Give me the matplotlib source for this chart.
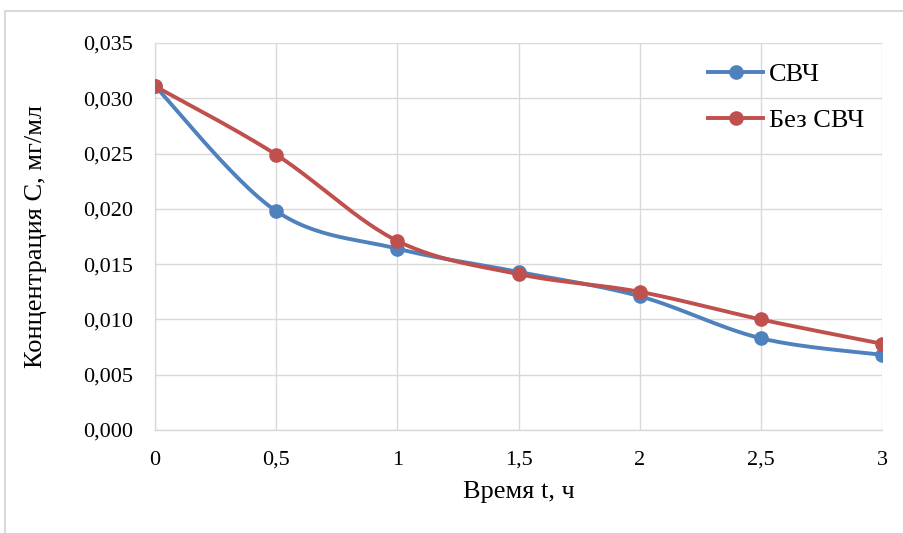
import numpy as np
import matplotlib
matplotlib.use('Agg')
import matplotlib.pyplot as plt
from matplotlib.lines import Line2D
from matplotlib.ticker import FuncFormatter

# Data
time_h = [0, 0.5, 1, 1.5, 2, 2.5, 3]
svch = [0.0311, 0.0198, 0.0164, 0.0143, 0.0121, 0.0083, 0.0068]
bez_svch = [0.0311, 0.0249, 0.0171, 0.0141, 0.0125, 0.0100, 0.0078]
series_names = ['СВЧ', 'Без СВЧ']
colors = ['#4f81bd', '#c0504d']


def smooth(x, y, n=30):
    """Excel-like smoothed line (Catmull-Rom as cubic Bezier)."""
    x = np.asarray(x, float)
    y = np.asarray(y, float)
    xs, ys = [], []
    for i in range(len(x) - 1):
        i0 = max(i - 1, 0)
        i3 = min(i + 2, len(x) - 1)
        p0 = np.array([x[i], y[i]])
        p3 = np.array([x[i + 1], y[i + 1]])
        p1 = p0 + (np.array([x[i + 1], y[i + 1]]) - np.array([x[i0], y[i0]])) / 6
        p2 = p3 - (np.array([x[i3], y[i3]]) - np.array([x[i], y[i]])) / 6
        t = np.linspace(0, 1, n)[:, None]
        pts = ((1 - t) ** 3) * p0 + 3 * ((1 - t) ** 2) * t * p1 \
            + 3 * (1 - t) * t ** 2 * p2 + t ** 3 * p3
        xs.extend(pts[:, 0])
        ys.extend(pts[:, 1])
    return xs, ys


plt.rcParams['font.family'] = ['Liberation Serif', 'DejaVu Serif']

fig = plt.figure(figsize=(9.04, 5.33), dpi=100)
ax = fig.add_axes([0.1715, 0.1932, 0.8042, 0.7261])

for vals, col in zip([svch, bez_svch], colors):
    sx, sy = smooth(time_h, vals)
    ax.plot(sx, sy, color=col, linewidth=2.8, solid_capstyle='round', zorder=3)
    ax.plot(time_h, vals, linestyle='none', marker='o', markersize=9.5,
            color=col, zorder=4)

ax.set_xlim(0, 3)
ax.set_ylim(0, 0.035)
ax.set_xticks(time_h)
ax.set_yticks(np.arange(0, 0.0351, 0.005))
ax.xaxis.set_major_formatter(FuncFormatter(lambda v, p: f'{v:g}'.replace('.', ',')))
ax.yaxis.set_major_formatter(FuncFormatter(lambda v, p: f'{v:.3f}'.replace('.', ',')))
ax.tick_params(length=0, labelsize=16, colors='#000000')
ax.tick_params(axis='x', pad=15)
ax.tick_params(axis='y', pad=16)
ax.grid(True, color='#d9d9d9', linewidth=1)
ax.set_axisbelow(True)
for s in ['top', 'right']:
    ax.spines[s].set_visible(False)
for s in ['left', 'bottom']:
    ax.spines[s].set_color('#d9d9d9')
    ax.spines[s].set_linewidth(1)

ax.set_xlabel('Время t, ч', fontsize=19, labelpad=8)
ax.set_ylabel('Концентрация С, мг/мл', fontsize=19, labelpad=26)

handles = [Line2D([0], [0], color=c, linewidth=2.8, marker='o', markersize=9.5)
           for c in colors]
fig.legend(handles, series_names, loc='upper left',
           bbox_to_anchor=(708 / 904, 1 - 63 / 533),
           frameon=False, fontsize=19, handlelength=2.1, labelspacing=0.85,
           handletextpad=0.2, borderpad=0, borderaxespad=0)

# outer chart border (partially cropped in the original)
fig.add_artist(Line2D([5 / 904, 1], [1 - 11 / 533, 1 - 11 / 533],
                      transform=fig.transFigure, color='#d9d9d9', linewidth=1.5))
fig.add_artist(Line2D([5 / 904, 5 / 904], [0, 1 - 11 / 533],
                      transform=fig.transFigure, color='#d9d9d9', linewidth=1.5))

fig.savefig('out.png', dpi=100)
